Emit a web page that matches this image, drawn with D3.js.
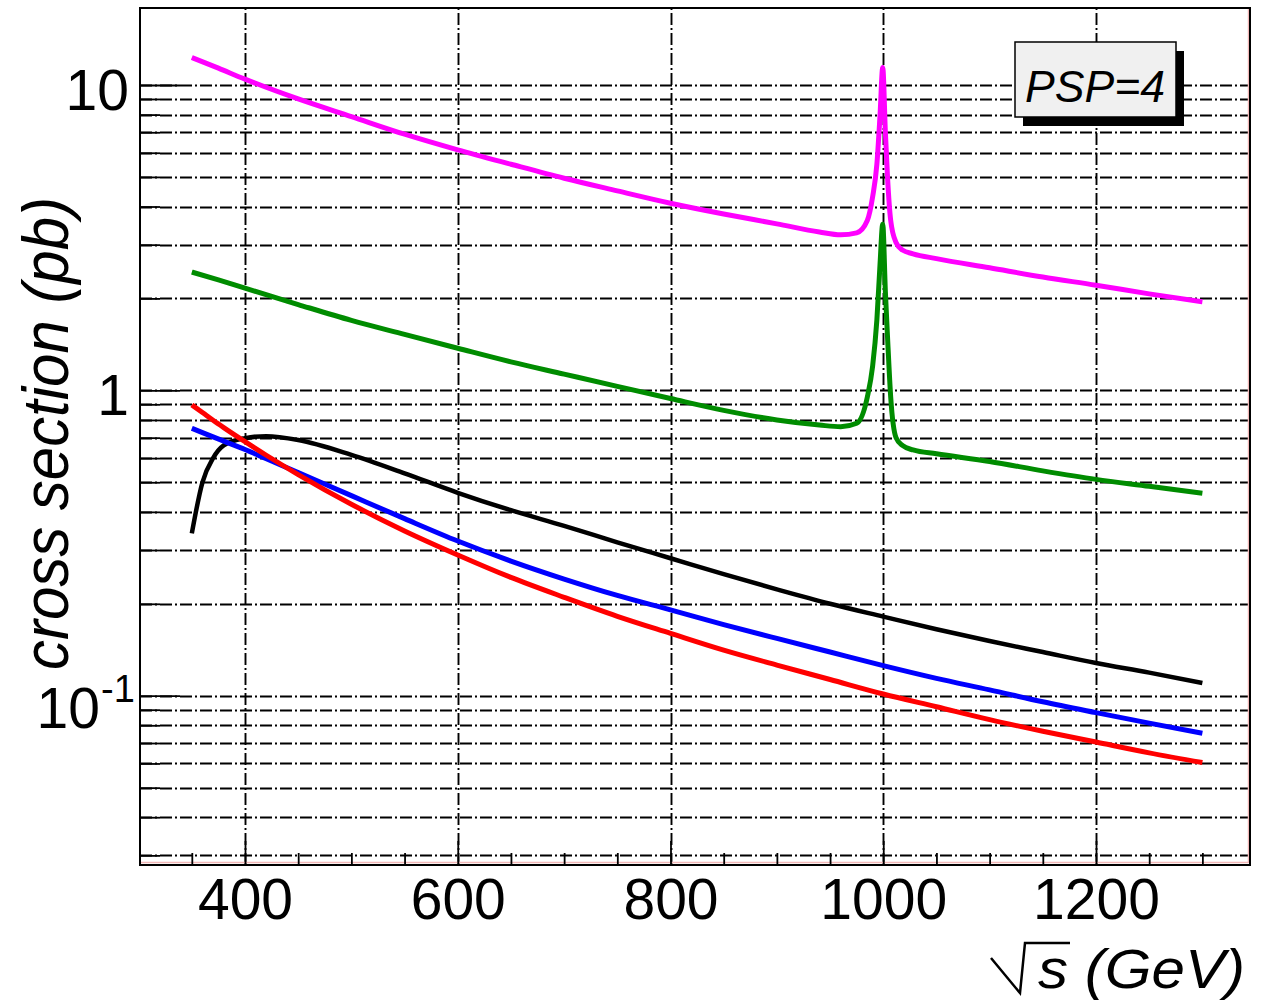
<!DOCTYPE html>
<html>
<head>
<meta charset="utf-8">
<script src="https://cdn.jsdelivr.net/npm/d3@7"></script>
<style>
  html, body { margin: 0; padding: 0; background: #fff; }
  svg { display: block; font-family: "Liberation Sans", Arial, Helvetica, sans-serif; }
</style>
</head>
<body>
<svg id="chart" width="1261" height="1008"></svg>
<script>
// ---------------- data ----------------
const energySmooth = [350, 360, 370, 380, 400, 420, 450, 500, 550, 600, 650, 700, 750, 800, 850, 900, 950, 1000, 1050, 1100, 1150, 1200, 1250, 1300];
const blackXsec = [0.34, 0.50, 0.60, 0.66, 0.697, 0.708, 0.688, 0.615, 0.535, 0.462, 0.405, 0.36, 0.318, 0.282, 0.25, 0.223, 0.20, 0.1815, 0.165, 0.151, 0.139, 0.128, 0.119, 0.110];
const blueXsec  = [0.751, 0.727, 0.704, 0.682, 0.640, 0.597, 0.538, 0.452, 0.380, 0.321, 0.276, 0.241, 0.213, 0.191, 0.171, 0.154, 0.139, 0.1255, 0.114, 0.1045, 0.0955, 0.088, 0.0813, 0.0753];
const redXsec   = [0.896, 0.846, 0.798, 0.755, 0.679, 0.613, 0.530, 0.4236, 0.3464, 0.289, 0.244, 0.210, 0.182, 0.160, 0.141, 0.126, 0.113, 0.1013, 0.092, 0.0835, 0.0765, 0.0705, 0.065, 0.0604];

const energyPeak = [350, 375, 400, 450, 500, 550, 600, 650, 700, 750, 800, 850, 900, 940, 960, 975, 985, 990, 994, 997, 999.5, 1002, 1004, 1007, 1012, 1018, 1028, 1050, 1100, 1150, 1200, 1250, 1300];
const magentaXsec = [12.3, 11.35, 10.45, 9.0, 7.88, 6.9, 6.13, 5.5, 4.95, 4.5, 4.10, 3.78, 3.51, 3.3, 3.23, 3.28, 3.6, 4.3, 5.5, 8.0, 11.4, 7.0, 5.0, 3.6, 3.05, 2.88, 2.8, 2.7, 2.52, 2.35, 2.21, 2.07, 1.95];
const greenXsec   = [2.44, 2.3, 2.16, 1.91, 1.695, 1.525, 1.374, 1.24, 1.13, 1.03, 0.94, 0.86, 0.80, 0.77, 0.76, 0.78, 0.95, 1.2, 1.7, 2.6, 3.5, 2.1, 1.5, 0.95, 0.70, 0.66, 0.638, 0.62, 0.585, 0.545, 0.511, 0.485, 0.46];

const xMajorTicks = [400, 600, 800, 1000, 1200];
const xMinorTicks = [350, 450, 500, 550, 650, 700, 750, 850, 900, 950, 1050, 1100, 1150, 1250, 1300];
const yMajorTicks = [0.1, 1, 10];
const yMinorTicks = [0.03, 0.04, 0.05, 0.06, 0.07, 0.08, 0.09, 0.2, 0.3, 0.4, 0.5, 0.6, 0.7, 0.8, 0.9, 2, 3, 4, 5, 6, 7, 8, 9];
const yTickLabels = [{v: 10, base: "10", sup: ""}, {v: 1, base: "1", sup: ""}, {v: 0.1, base: "10", sup: "-1"}];
const xTitle = "s (GeV)";
const yTitle = "cross section (pb)";
const boxLabel = "PSP=4";

// ---------------- layout ----------------
const L = 140, R = 1250, T = 8, B = 865;
const svg = d3.select("#chart");
svg.append("rect").attr("width", 1261).attr("height", 1008).attr("fill", "#fff");

const x = d3.scaleLinear().domain([301.29, 1344.77]).range([L, R]);
const y = d3.scaleLog().domain([0.0279, 17.87]).range([B, T]);

const gridDash = "12,3,2,3";
// grid
const grid = svg.append("g").attr("stroke", "#000").attr("stroke-width", 1.9).attr("stroke-dasharray", gridDash).attr("fill", "none");
grid.selectAll("line.v").data(xMajorTicks).join("line")
  .attr("x1", d => Math.round(x(d)) + 0.5).attr("x2", d => Math.round(x(d)) + 0.5).attr("y1", B).attr("y2", T);
grid.selectAll("line.h").data(yMajorTicks.concat(yMinorTicks)).join("line")
  .attr("y1", d => Math.round(y(d)) + 0.5).attr("y2", d => Math.round(y(d)) + 0.5).attr("x1", L).attr("x2", R);

// faint reddish inner edges
svg.append("line").attr("x1", L).attr("x2", R - 1).attr("y1", B - 2.5).attr("y2", B - 2.5).attr("stroke", "#f2b8b8").attr("stroke-width", 1.5);
svg.append("line").attr("x1", R - 1.5).attr("x2", R - 1.5).attr("y1", T).attr("y2", B - 2).attr("stroke", "#f2b8b8").attr("stroke-width", 1.5);

// axes (ticks inward)
function styleAxis(g) {
  g.select(".domain").remove();
  g.selectAll(".tick line").attr("stroke", "#000").attr("stroke-width", 1.8);
}
svg.append("g").attr("transform", `translate(0,${B})`)
  .call(d3.axisBottom(x).tickValues(xMajorTicks).tickSize(-24).tickPadding(14).tickFormat(d3.format("d")))
  .call(styleAxis)
  .call(g => g.selectAll(".tick text").attr("font-size", 57).attr("fill", "#000").attr("font-family", "Liberation Sans, Arial, sans-serif"));
svg.append("g").attr("transform", `translate(0,${B})`)
  .call(d3.axisBottom(x).tickValues(xMinorTicks).tickSize(-12).tickFormat(""))
  .call(styleAxis);
svg.append("g").attr("transform", `translate(${L},0)`)
  .call(d3.axisLeft(y).tickValues(yMajorTicks).tickSize(-40).tickFormat(""))
  .call(styleAxis);
svg.append("g").attr("transform", `translate(${L},0)`)
  .call(d3.axisLeft(y).tickValues(yMinorTicks).tickSize(-20).tickFormat(""))
  .call(styleAxis);

// y tick labels
const yl = svg.append("g").attr("font-size", 57).attr("fill", "#000");
yTickLabels.forEach(t => {
  if (t.sup) {
    yl.append("text").attr("x", 100).attr("y", y(t.v) + 32).attr("text-anchor", "end").text(t.base);
    yl.append("text").attr("x", 101).attr("y", y(t.v) + 6).attr("font-size", 38).attr("text-anchor", "start").text(t.sup);
  } else {
    yl.append("text").attr("x", 129).attr("y", y(t.v) + 25).attr("text-anchor", "end").text(t.base);
  }
});

// curves
const line = d3.line().curve(d3.curveMonotoneX);
function drawSeries(xs, ys, color, width) {
  svg.append("path")
    .attr("d", line(xs.map((e, i) => [x(e), y(ys[i])])))
    .attr("fill", "none").attr("stroke", color).attr("stroke-width", width)
    .attr("stroke-linejoin", "round");
}
drawSeries(energySmooth, blackXsec, "#000000", 4.5);
drawSeries(energySmooth, blueXsec, "#0000ff", 5);
drawSeries(energySmooth, redXsec, "#ff0000", 5);
drawSeries(energyPeak, greenXsec, "#008c00", 5);
drawSeries(energyPeak, magentaXsec, "#ff00ff", 5);

// frame
svg.append("rect").attr("x", L).attr("y", T).attr("width", R - L).attr("height", B - T)
  .attr("fill", "none").attr("stroke", "#000").attr("stroke-width", 2);

// PSP label box with shadow
svg.append("rect").attr("x", 1023).attr("y", 51).attr("width", 161).attr("height", 75).attr("fill", "#000");
svg.append("rect").attr("x", 1015).attr("y", 42).attr("width", 161).attr("height", 75)
  .attr("fill", "#f0f0f0").attr("stroke", "#000").attr("stroke-width", 1.5);
svg.append("text").attr("x", 1025).attr("y", 101.5).attr("font-size", 44).attr("font-style", "italic")
  .attr("textLength", 140).attr("lengthAdjust", "spacingAndGlyphs").attr("fill", "#000").text(boxLabel);

// x title with radical
svg.append("path").attr("d", "M991,958 L1020,993 L1025,943 L1070,943")
  .attr("fill", "none").attr("stroke", "#000").attr("stroke-width", 2.5).attr("stroke-linejoin", "miter");
svg.append("text").attr("x", 1038).attr("y", 988).attr("font-size", 56).attr("font-style", "italic")
  .attr("textLength", 207).attr("lengthAdjust", "spacingAndGlyphs").attr("fill", "#000").text(xTitle);

// y title
svg.append("text").attr("transform", "translate(68,433.5) rotate(-90)")
  .attr("text-anchor", "middle").attr("font-size", 64).attr("font-style", "italic")
  .attr("textLength", 473).attr("lengthAdjust", "spacingAndGlyphs").attr("fill", "#000").text(yTitle);
</script>
</body>
</html>
